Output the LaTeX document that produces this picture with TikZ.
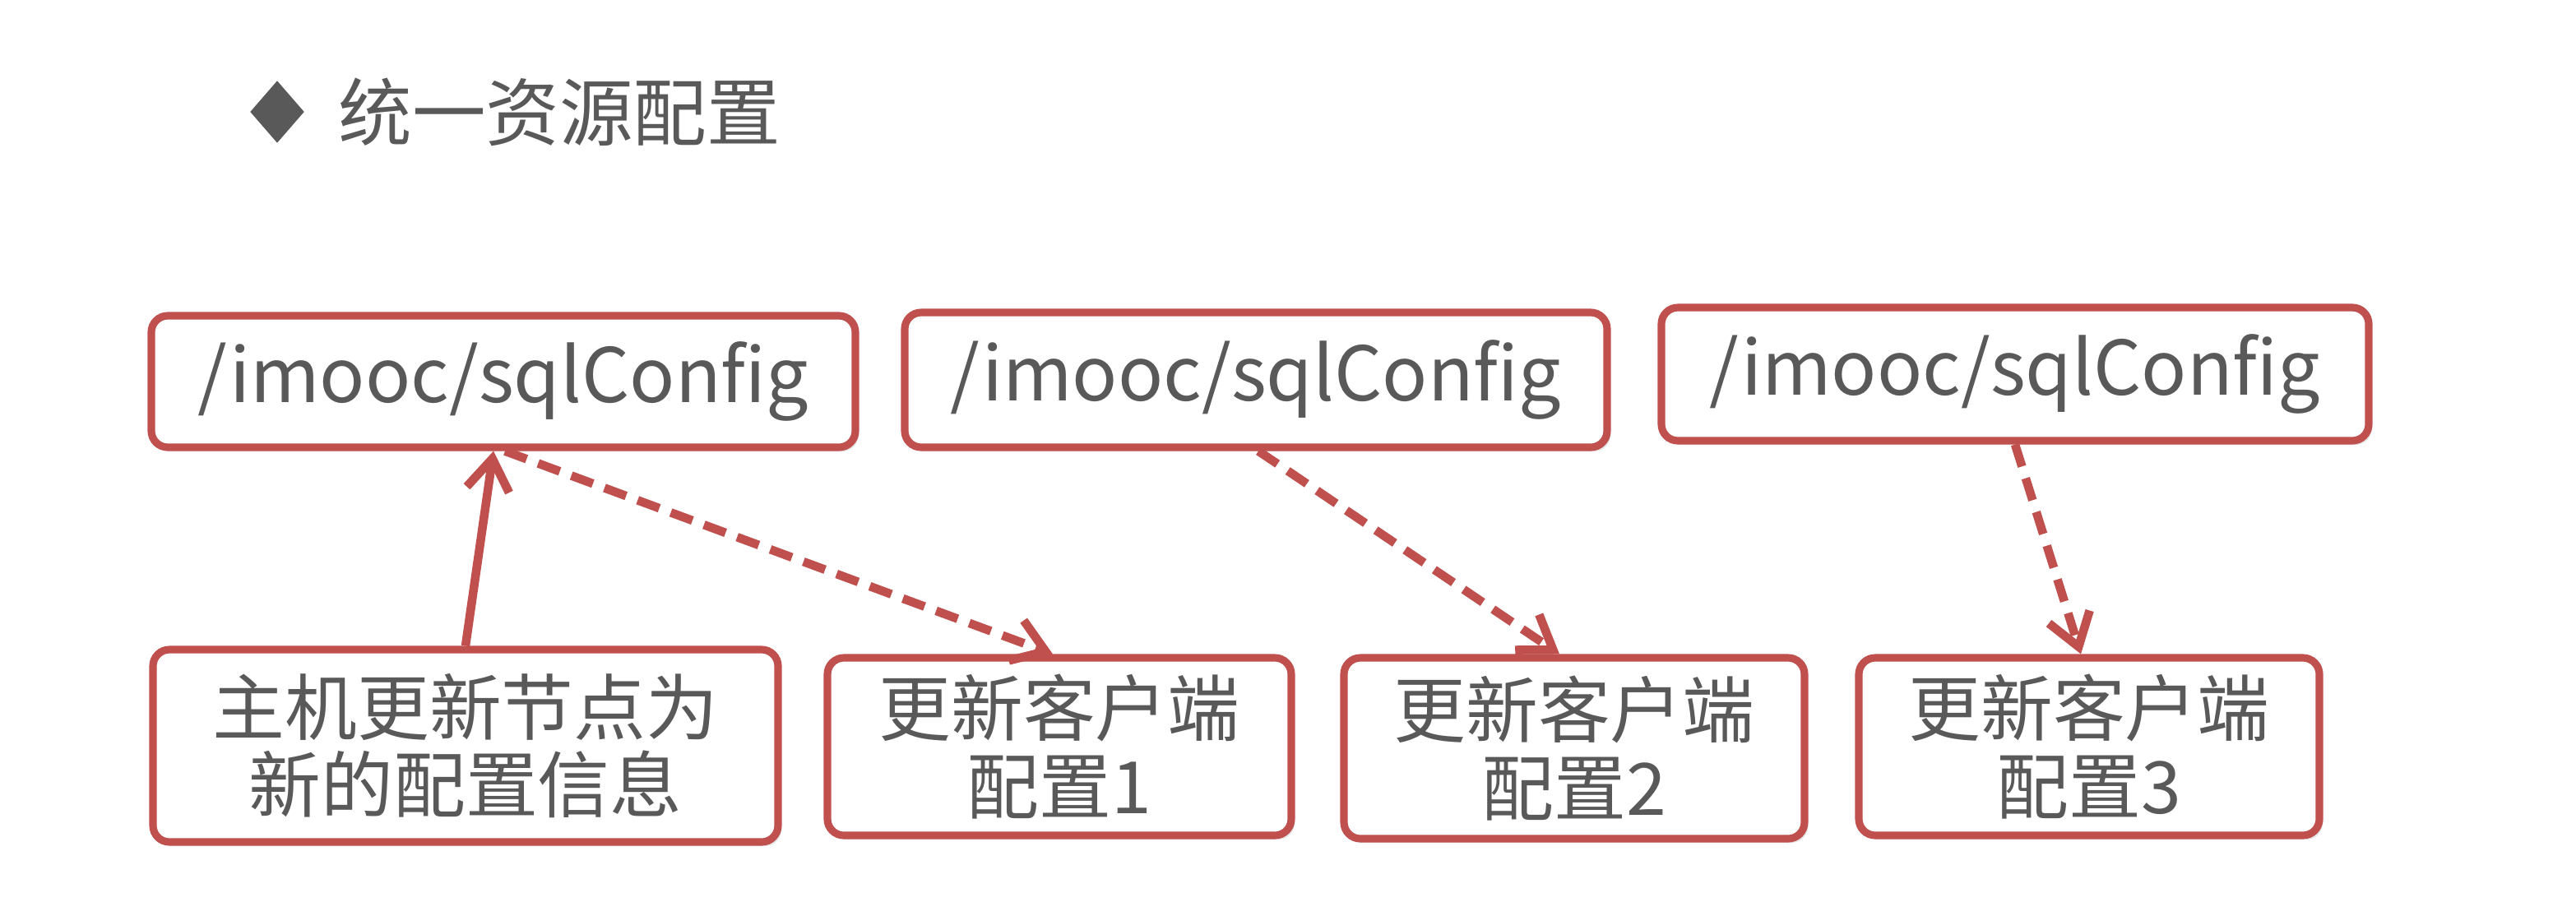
\documentclass[tikz,border=0pt]{standalone}
\usepackage{fontspec}
\setmainfont{Noto Sans CJK SC}
\usetikzlibrary{arrows.meta, positioning, shapes.geometric, shadows}

\definecolor{boxred}{RGB}{192,80,77}
\definecolor{textgray}{RGB}{89,89,89}

\begin{document}
\begin{tikzpicture}[> = {Straight Barb[length=0.38cm, width=0.52cm]},
    box/.style = {draw=boxred, line width=2.6pt, rounded corners=0.2cm, fill=white,
                  text=textgray, align=center, inner sep=0pt,
                  drop shadow={opacity=0.22, shadow xshift=0.04cm, shadow yshift=-0.05cm},
                  font=\fontsize{25}{27}\selectfont},
    path/.style = {box, font=\fontsize{26}{28}\selectfont},
    link/.style = {->, boxred, line width=3pt},
    update/.style = {link, dash pattern=on 0.28cm off 0.15cm}]
    \useasboundingbox (0,0) rectangle (31.32,-10.96);

    % title
    \node[diamond, fill=textgray, aspect=0.87, inner sep=0pt,
          minimum width=0.66cm, minimum height=0.76cm] (bullet) at (3.37,-1.36) {};
    \node[right=0.4cm of bullet, inner sep=0pt, text=textgray,
          font=\fontsize{25.5}{27}\selectfont] (title) {统一资源配置};

    % znode paths
    \node[path, minimum width=8.56cm, minimum height=1.60cm] (t1) at (6.12,-4.64) {/imooc/sqlConfig};
    \node[path, minimum width=8.54cm, minimum height=1.64cm] (t2) at (15.27,-4.62) {/imooc/sqlConfig};
    \node[path, minimum width=8.60cm, minimum height=1.62cm] (t3) at (24.50,-4.55) {/imooc/sqlConfig};

    % host and clients
    \node[box, minimum width=7.60cm, minimum height=2.34cm] (host) at (5.66,-9.07) {主机更新节点为\\新的配置信息};
    \node[box, minimum width=5.64cm, minimum height=2.16cm] (c1) at (12.88,-9.08) {更新客户端\\配置1};
    \node[box, minimum width=5.60cm, minimum height=2.20cm] (c2) at (19.14,-9.10) {更新客户端\\配置2};
    \node[box, minimum width=5.60cm, minimum height=2.16cm] (c3) at (25.40,-9.08) {更新客户端\\配置3};

    \draw[link] (host.north) -- ([xshift=-0.12cm]t1.south);
    \draw[update] ([xshift=0.02cm]t1.south) -- ([xshift=-0.08cm]c1.north);
    \draw[update] ([xshift=0.03cm]t2.south) -- ([xshift=-0.18cm]c2.north);
    \draw[update] (t3.south) -- ([xshift=-0.10cm]c3.north);
\end{tikzpicture}
\end{document}
